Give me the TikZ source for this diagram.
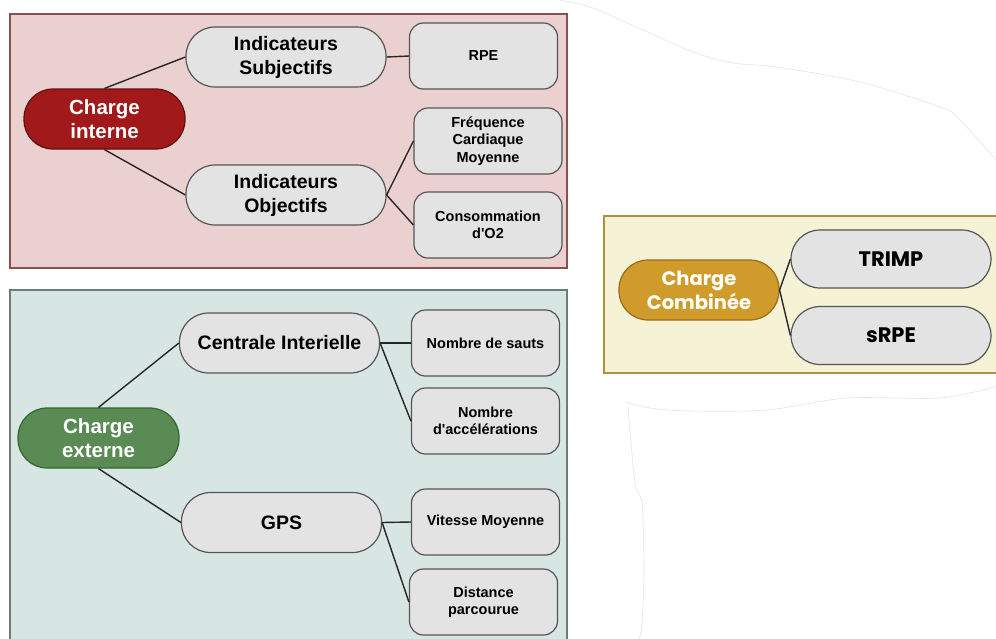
\documentclass[tikz,border=0pt]{standalone}
\usepackage{fontspec}
\setmainfont{Liberation Sans}
\newfontfamily\poppinsfont{Poppins}

\definecolor{pinkpanel}{HTML}{EBD0D0}
\definecolor{pinkline}{HTML}{8C4F4F}
\definecolor{tealpanel}{HTML}{D8E6E3}
\definecolor{tealline}{HTML}{6B7D78}
\definecolor{yellowpanel}{HTML}{F5F2D6}
\definecolor{yellowline}{HTML}{B09040}
\definecolor{nodegray}{HTML}{E3E3E3}
\definecolor{nodeline}{HTML}{555555}
\definecolor{redroot}{HTML}{A1191B}
\definecolor{redrootline}{HTML}{5E1010}
\definecolor{greenroot}{HTML}{5A8B55}
\definecolor{greenrootline}{HTML}{2F6A2C}
\definecolor{goldroot}{HTML}{D09B2A}
\definecolor{goldrootline}{HTML}{9A6A1E}

\begin{document}
\begin{tikzpicture}
[x=1pt,y=-1pt,
  paneldecorate/.style={line width=1.3pt},%
  rootdecorate/.style={shape=rectangle,rounded corners=29pt,draw,line width=1.2pt,
    text=white,align=center,inner sep=0pt,minimum width=161pt,minimum height=60pt,
    font=\bfseries\fontsize{20.5}{24}\selectfont},%
  middecorate/.style={shape=rectangle,rounded corners=29pt,draw=nodeline,fill=nodegray,
    line width=1.2pt,align=center,inner sep=0pt,minimum width=200pt,minimum height=60pt,
    font=\bfseries\fontsize{19.5}{24}\selectfont},%
  leafdecorate/.style={shape=rectangle,rounded corners=14pt,draw=nodeline,fill=nodegray,
    line width=1.2pt,align=center,inner sep=0pt,minimum width=148pt,minimum height=66pt,
    font=\bfseries\fontsize{14.5}{17.5}\selectfont},%
  linedecorate/.style={-,line width=1.4pt,draw=black!85},%
  wavedecorate/.style={gray!22,line width=0.6pt}]
\useasboundingbox (0,0) rectangle (996,638);
\clip (0,0) rectangle (996,638);
%% background edges
\draw[wavedecorate] plot[smooth] coordinates {(560,0) (593,8) (643,30) (693,52)
  (733,63) (777,67) (860,82) (943,108) (960,120) (990,153) (998,162)};
\draw[wavedecorate] plot[smooth] coordinates {(625,402) (650,408) (690,411)
  (767,410) (847,398) (940,398) (998,386)};
\draw[wavedecorate] plot[smooth] coordinates {(628,407) (635,483) (642,503)
  (644,570) (642,623) (639,640)};
%% panels
\draw[paneldecorate,draw=pinkline,fill=pinkpanel] (10,14) rectangle (567,268);
\draw[paneldecorate,draw=tealline,fill=tealpanel] (10,290) rectangle (567,645);
\draw[paneldecorate,draw=yellowline,fill=yellowpanel] (604,216) rectangle (1005,373);
%% roots
\node (interne) at (104.5,119) [rootdecorate,fill=redroot,draw=redrootline] {Charge\\interne};
\node (externe) at (98.5,438) [rootdecorate,fill=greenroot,draw=greenrootline] {Charge\\externe};
\node (combinee) at (699,290) [rootdecorate,minimum width=160pt,fill=goldroot,draw=goldrootline,
  font=\poppinsfont\bfseries\fontsize{19.5}{24}\selectfont] {Charge\\Combinée};
%% middle nodes
\foreach \nodename/\x/\y/\txt in {subj/286/57/{Indicateurs\\Subjectifs},
  obj/286/195/{Indicateurs\\Objectifs}, centrale/279.5/343/{Centrale Interielle},
  gps/281.5/522.5/{GPS}} {
  \node (\nodename) at (\x,\y) [middecorate] {\txt};
}
\foreach \nodename/\y/\txt in {trimp/259/{TRIMP}, srpe/335.5/{sRPE}} {
  \node (\nodename) at (891,\y) [middecorate,minimum height=58pt,
    font=\poppinsfont\bfseries\fontsize{21}{24}\selectfont] {\txt};
}
%% leaves
\foreach \nodename/\x/\y/\txt in {rpe/483.5/56/{RPE},
  freq/488/141/{Fréquence\\Cardiaque\\Moyenne}, conso/488/225/{Consommation\\d\textquotesingle O2},
  sauts/485.5/343/{Nombre de sauts}, accel/485.5/421/{Nombre\\d\textquotesingle accélérations},
  vitesse/485.5/522/{Vitesse Moyenne}, distance/483.5/602/{Distance\\parcourue}} {
  \node (\nodename) at (\x,\y) [leafdecorate] {\txt};
}
%% edges
\draw[linedecorate] (interne.north) -- (subj.west);
\draw[linedecorate] (interne.south) -- (obj.west);
\draw[linedecorate] (externe.north) -- (centrale.west);
\draw[linedecorate] (externe.south) -- (gps.west);
\path
\foreach \startnode/\endnode in {subj/rpe, obj/freq, obj/conso, centrale/sauts,
  centrale/accel, gps/vitesse, gps/distance, combinee/trimp, combinee/srpe}
{
  (\startnode.east) edge[linedecorate] (\endnode.west)
};
\end{tikzpicture}
\end{document}
